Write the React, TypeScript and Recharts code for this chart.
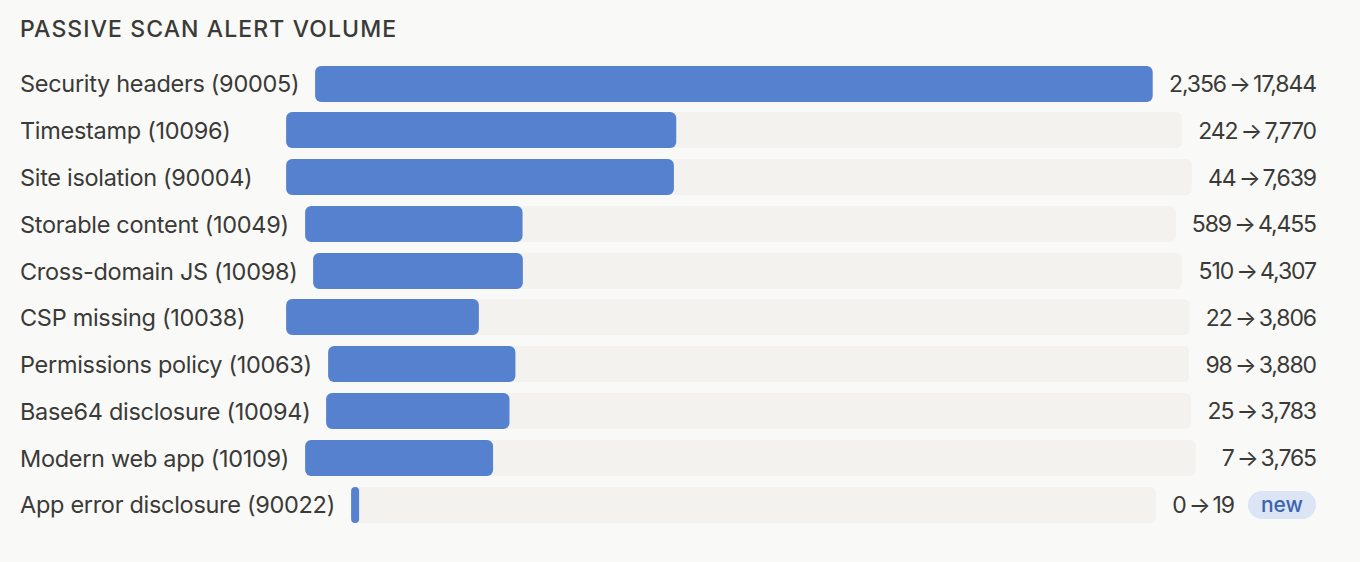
import { BarChart, Bar, XAxis, YAxis } from "recharts";

const labels = [
  "Security headers (90005)",
  "Timestamp (10096)",
  "Site isolation (90004)",
  "Storable content (10049)",
  "Cross-domain JS (10098)",
  "CSP missing (10038)",
  "Permissions policy (10063)",
  "Base64 disclosure (10094)",
  "Modern web app (10109)",
  "App error disclosure (90022)",
];
const beforeCounts = [2356, 242, 44, 589, 510, 22, 98, 25, 7, 0];
const afterCounts = [17844, 7770, 7639, 4455, 4307, 3806, 3880, 3783, 3765, 19];
const isNew = [false, false, false, false, false, false, false, false, false, true];

const FONT = '"Inter", "Noto Sans", sans-serif';
const TEXT = "#3a3a37";
const BAR = "#5581cf";
const TRACK = "#f3f2ee";
const BG = "#f9f9f7";

const LABEL_SIZE = 23.5;
const LABEL_TRACKING = -0.3;
const VALUE_SIZE = 23;
const VALUE_TRACKING = -1.1;
const ROW_H = 46.78;
const BAR_H = 36;
const CONTENT_W = 1296;
const LABEL_MIN = 250;
const VALUE_MIN = 104;
const GAP = 16;
const BADGE_W = 68;
const BADGE_GAP = 14;
const ARROW = "\u2009→\u2009";

const maxAfter = Math.max(...afterCounts);

let ctx: CanvasRenderingContext2D | null = null;
function textWidth(text: string, size: number, tracking: number) {
  if (!ctx) ctx = document.createElement("canvas").getContext("2d");
  if (!ctx) return text.length * (size * 0.55 + tracking);
  ctx.font = `400 ${size}px ${FONT}`;
  const c = ctx as any;
  if ("letterSpacing" in c) {
    c.letterSpacing = `${tracking}px`;
    return ctx.measureText(text).width;
  }
  return ctx.measureText(text).width + tracking * text.length;
}

const fmt = (n: number) => n.toLocaleString("en-US");

function Row({ i }: { i: number }) {
  const valueText = `${fmt(beforeCounts[i])}${ARROW}${fmt(afterCounts[i])}`;
  const labelW = Math.max(textWidth(labels[i], LABEL_SIZE, LABEL_TRACKING), LABEL_MIN);
  let valueW = textWidth(valueText, VALUE_SIZE, VALUE_TRACKING);
  if (isNew[i]) valueW += BADGE_GAP + BADGE_W;
  valueW = Math.max(valueW, VALUE_MIN);
  const trackW = CONTENT_W - labelW - valueW - GAP * 2;
  const data = [{ name: labels[i], value: afterCounts[i] }];

  return (
    <div style={{ display: "flex", alignItems: "center", height: ROW_H }}>
      <span
        style={{
          width: labelW,
          marginRight: GAP,
          whiteSpace: "nowrap",
          letterSpacing: LABEL_TRACKING,
        }}
      >
        {labels[i]}
      </span>
      {/* band taller than the bar, otherwise recharts shrinks barSize to 90% */}
      <BarChart
        width={trackW}
        height={ROW_H}
        data={data}
        layout="vertical"
        barCategoryGap={0}
        barGap={0}
        margin={{ top: 0, right: 0, bottom: 0, left: 0 }}
      >
        <XAxis type="number" domain={[0, maxAfter]} hide />
        <YAxis type="category" dataKey="name" hide />
        <Bar
          dataKey="value"
          fill={BAR}
          barSize={BAR_H}
          radius={6}
          minPointSize={8}
          background={{ fill: TRACK, radius: 6 }}
          isAnimationActive={false}
        />
      </BarChart>
      <div
        style={{
          width: valueW,
          marginLeft: GAP,
          display: "flex",
          justifyContent: "flex-end",
          alignItems: "center",
          whiteSpace: "nowrap",
        }}
      >
        <span style={{ fontSize: VALUE_SIZE, letterSpacing: VALUE_TRACKING }}>{valueText}</span>
        {isNew[i] && (
          <span
            style={{
              marginLeft: BADGE_GAP,
              width: BADGE_W,
              height: 28,
              borderRadius: 14,
              background: "#dbe5f5",
              color: "#3d63ad",
              fontSize: 21,
              fontWeight: 500,
              display: "flex",
              alignItems: "center",
              justifyContent: "center",
            }}
          >
            new
          </span>
        )}
      </div>
    </div>
  );
}

export default function App() {
  return (
    <div
      style={{
        position: "absolute",
        left: 0,
        top: 0,
        width: 1360,
        height: 562,
        background: BG,
        fontFamily: FONT,
        color: TEXT,
        fontSize: LABEL_SIZE,
        overflow: "hidden",
      }}
    >
      <div
        style={{
          position: "absolute",
          left: 20,
          top: 15,
          fontSize: 23,
          fontWeight: 500,
          letterSpacing: 1.1,
          lineHeight: "28px",
        }}
      >
        PASSIVE SCAN ALERT VOLUME
      </div>
      <div style={{ position: "absolute", left: 20, top: 84 - ROW_H / 2, width: CONTENT_W }}>
        {labels.map((_, i) => (
          <Row key={i} i={i} />
        ))}
      </div>
    </div>
  );
}
